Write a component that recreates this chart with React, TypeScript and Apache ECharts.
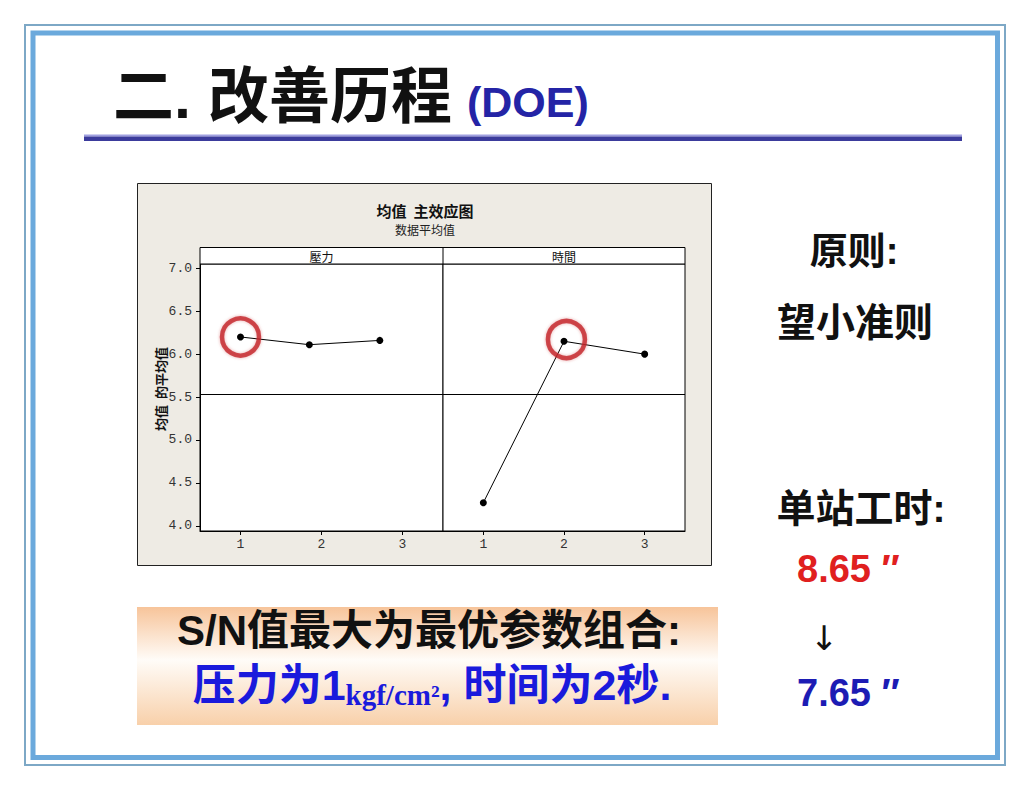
import React, { useEffect, useRef } from "react";
import * as echarts from "echarts";

// ---- data ----
const factorNames = ["壓力", "時間"];
const levelTicks = [1, 2, 3];
const pressureLevels = [1, 1.85, 2.72];
const pressureMeans = [6.2, 6.11, 6.16];
const timeLevels = [1, 2, 3];
const timeMeans = [4.27, 6.15, 6.0];
const yTicks = [4.0, 4.5, 5.0, 5.5, 6.0, 6.5, 7.0];
const referenceMean = 5.53;
const highlightPressure = [[1, 6.2]];
const highlightTime = [[2.03, 6.17]];

const chartTitle = "均值  主效应图";
const chartSubtitle = "数据平均值";
const yAxisName = "均值  的平均值";

const SANS = '"Liberation Sans", "Noto Sans CJK SC", sans-serif';
const CJK = '"Noto Sans CJK SC", sans-serif';
const MONO = '"Liberation Mono", "DejaVu Sans Mono", monospace';

export default function App() {
  const ref = useRef<HTMLDivElement>(null);

  useEffect(() => {
    if (!ref.current) return;
    const chart = echarts.init(ref.current, undefined, { renderer: "svg" });

    const refLine = {
      silent: true,
      symbol: ["none", "none"],
      label: { show: false },
      lineStyle: { color: "#000", width: 1, type: "solid" },
      data: [{ yAxis: referenceMean }],
    };

    const xAxisCfg = (i: number) => ({
      gridIndex: i,
      type: "value",
      min: 0.5,
      max: 3.5,
      axisLine: { show: true, lineStyle: { color: "#000", width: 1 } },
      axisTick: {
        show: true,
        length: 4,
        customValues: levelTicks,
        lineStyle: { color: "#000" },
      },
      axisLabel: {
        customValues: levelTicks,
        margin: 7,
        fontFamily: MONO,
        fontSize: 13,
        color: "#333",
        formatter: (v: number) => String(v),
      },
      splitLine: { show: false },
    });

    const ringStyle = {
      color: "rgba(0,0,0,0)",
      borderColor: "#C4262C",
      borderWidth: 4.5,
      shadowBlur: 3,
      shadowColor: "rgba(196,38,44,0.5)",
    };

    const option: any = {
      animation: false,
      textStyle: { fontFamily: SANS },
      title: {
        text: chartTitle,
        subtext: chartSubtitle,
        left: 425,
        top: 202,
        textAlign: "center",
        itemGap: 4,
        padding: 0,
        textStyle: { fontSize: 15, lineHeight: 16, fontWeight: "bold", color: "#111", fontFamily: CJK },
        subtextStyle: { fontSize: 12, lineHeight: 14, color: "#222", fontFamily: CJK },
      },
      grid: [
        {
          left: 200, top: 264, width: 243, height: 267,
          show: true, backgroundColor: "#fff", borderColor: "#000", borderWidth: 1,
        },
        {
          left: 443, top: 264, width: 242, height: 267,
          show: true, backgroundColor: "#fff", borderColor: "#000", borderWidth: 1,
        },
      ],
      xAxis: [xAxisCfg(0), xAxisCfg(1)],
      yAxis: [
        {
          gridIndex: 0,
          type: "value",
          min: 3.94,
          max: 7.05,
          axisLine: { show: true, lineStyle: { color: "#000", width: 1 } },
          axisTick: { show: true, length: 4, customValues: yTicks, lineStyle: { color: "#000" } },
          axisLabel: {
            customValues: yTicks,
            margin: 8,
            fontFamily: MONO,
            fontSize: 13,
            color: "#333",
            formatter: (v: number) => v.toFixed(1),
          },
          splitLine: { show: false },
        },
        {
          gridIndex: 1,
          type: "value",
          min: 3.94,
          max: 7.05,
          axisLine: { show: false },
          axisTick: { show: false },
          axisLabel: { show: false },
          splitLine: { show: false },
        },
      ],
      series: [
        {
          name: factorNames[0],
          type: "line",
          xAxisIndex: 0,
          yAxisIndex: 0,
          data: pressureLevels.map((x, i) => [x, pressureMeans[i]]),
          symbol: "circle",
          symbolSize: 7,
          itemStyle: { color: "#000" },
          lineStyle: { color: "#000", width: 1 },
          markLine: refLine,
          z: 3,
        },
        {
          name: factorNames[1],
          type: "line",
          xAxisIndex: 1,
          yAxisIndex: 1,
          data: timeLevels.map((x, i) => [x, timeMeans[i]]),
          symbol: "circle",
          symbolSize: 7,
          itemStyle: { color: "#000" },
          lineStyle: { color: "#000", width: 1 },
          markLine: refLine,
          z: 3,
        },
        {
          type: "scatter",
          xAxisIndex: 0,
          yAxisIndex: 0,
          data: highlightPressure,
          symbol: "circle",
          symbolSize: 37,
          itemStyle: ringStyle,
          silent: true,
          z: 4,
        },
        {
          type: "scatter",
          xAxisIndex: 1,
          yAxisIndex: 1,
          data: highlightTime,
          symbol: "circle",
          symbolSize: 37,
          itemStyle: ringStyle,
          silent: true,
          z: 4,
        },
      ],
      graphic: [
        // page frames
        {
          type: "rect", z: -10,
          shape: { x: 25, y: 25, width: 980, height: 740 },
          style: { fill: "none", stroke: "#7DA8C6", lineWidth: 2 },
        },
        {
          type: "rect", z: -10,
          shape: { x: 33, y: 33, width: 964.5, height: 724.5 },
          style: { fill: "none", stroke: "#6BA9DC", lineWidth: 5 },
        },
        // page title
        {
          type: "text", z: 10,
          x: 113, y: 97,
          style: {
            text: "二. 改善历程",
            font: `bold 61px ${SANS}`,
            fill: "#111",
            textAlign: "left",
            textVerticalAlign: "middle",
          },
        },
        {
          type: "text", z: 10,
          x: 467, y: 102,
          style: {
            text: "(DOE)",
            font: `bold 43px ${SANS}`,
            fill: "#2424A6",
            textAlign: "left",
            textVerticalAlign: "middle",
          },
        },
        // title underline
        {
          type: "rect", z: 1,
          shape: { x: 84, y: 134.5, width: 878, height: 2 },
          style: { fill: "#A0A0E0" },
        },
        {
          type: "rect", z: 1,
          shape: { x: 84, y: 136.5, width: 878, height: 4.5 },
          style: { fill: "#3B3B9C" },
        },
        // chart box
        {
          type: "rect", z: -5,
          shape: { x: 137.5, y: 183.5, width: 574, height: 382 },
          style: { fill: "#EEEBE4", stroke: "#222", lineWidth: 1 },
        },
        // facet header strip
        {
          type: "rect", z: 5,
          shape: { x: 200, y: 247.5, width: 485, height: 16.5 },
          style: { fill: "#fff", stroke: "#000", lineWidth: 1 },
        },
        {
          type: "line", z: 6,
          shape: { x1: 443, y1: 247.5, x2: 443, y2: 264 },
          style: { stroke: "#000", lineWidth: 1 },
        },
        {
          type: "text", z: 7, x: 321.5, y: 256,
          style: {
            text: factorNames[0], font: `12px ${'"Noto Sans CJK TC", sans-serif'}`,
            fill: "#111", textAlign: "center", textVerticalAlign: "middle",
          },
        },
        {
          type: "text", z: 7, x: 564, y: 256,
          style: {
            text: factorNames[1], font: `12px ${'"Noto Sans CJK TC", sans-serif'}`,
            fill: "#111", textAlign: "center", textVerticalAlign: "middle",
          },
        },
        // y axis name
        {
          type: "text", z: 7, x: 160, y: 389, rotation: Math.PI / 2,
          style: {
            text: yAxisName, font: `bold 13px ${CJK}`,
            fill: "#111", textAlign: "center", textVerticalAlign: "middle",
          },
        },
        // right side notes
        {
          type: "text", z: 7, x: 854, y: 251,
          style: {
            text: "原则:", font: `bold 38px ${SANS}`, fill: "#111",
            textAlign: "center", textVerticalAlign: "middle",
          },
        },
        {
          type: "text", z: 7, x: 855, y: 322,
          style: {
            text: "望小准则", font: `bold 39px ${SANS}`, fill: "#111",
            textAlign: "center", textVerticalAlign: "middle",
          },
        },
        {
          type: "text", z: 7, x: 861, y: 508,
          style: {
            text: "单站工时:", font: `bold 39px ${SANS}`, fill: "#111",
            textAlign: "center", textVerticalAlign: "middle",
          },
        },
        {
          type: "text", z: 7, x: 797, y: 569,
          style: {
            text: "8.65 ″", font: `bold 38px ${SANS}`, fill: "#E0201F",
            textAlign: "left", textVerticalAlign: "middle",
          },
        },
        {
          type: "text", z: 7, x: 824, y: 638,
          style: {
            text: "↓", font: `34px ${'"DejaVu Sans", sans-serif'}`, fill: "#111",
            textAlign: "center", textVerticalAlign: "middle",
          },
        },
        {
          type: "text", z: 7, x: 797, y: 693,
          style: {
            text: "7.65 ″", font: `bold 38px ${SANS}`, fill: "#1C1CB4",
            textAlign: "left", textVerticalAlign: "middle",
          },
        },
        // bottom conclusion box
        {
          type: "rect", z: -5,
          shape: { x: 137, y: 607, width: 581, height: 118 },
          style: {
            fill: new echarts.graphic.LinearGradient(0, 0, 0, 1, [
              { offset: 0, color: "#F7C49A" },
              { offset: 0.45, color: "#FFFCF8" },
              { offset: 1, color: "#F8D0AA" },
            ]),
          },
        },
        {
          type: "text", z: 7, x: 429, y: 630,
          style: {
            text: "S/N值最大为最优参数组合:", font: `bold 42px ${SANS}`, fill: "#111",
            textAlign: "center", textVerticalAlign: "middle",
          },
        },
        {
          type: "text", z: 7, x: 432, y: 685,
          style: {
            text: "{a|压力为1}{b|kgf/cm²}{a|, 时间为2秒.}",
            textAlign: "center",
            textVerticalAlign: "middle",
            rich: {
              a: { font: `bold 43px ${SANS}`, fill: "#1A1ADC", lineHeight: 48 },
              b: {
                font: `bold 29px "Liberation Serif", serif`, fill: "#1A1ADC",
                lineHeight: 40, verticalAlign: "bottom",
              },
            },
          },
        },
      ],
    };

    chart.setOption(option);
    return () => chart.dispose();
  }, []);

  return (
    <div
      ref={ref}
      style={{ position: "fixed", left: 0, top: 0, width: 1030, height: 790, background: "#fff" }}
    />
  );
}
